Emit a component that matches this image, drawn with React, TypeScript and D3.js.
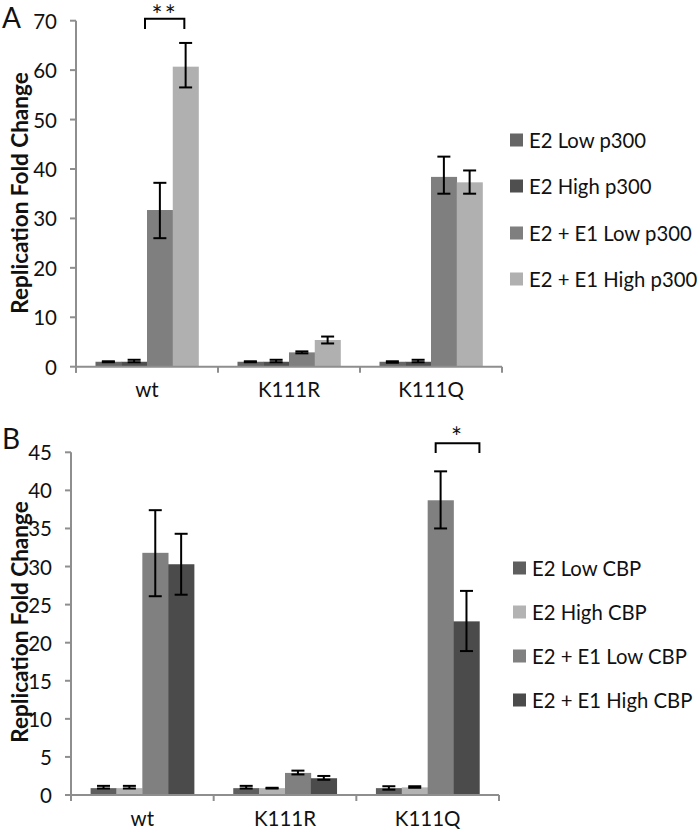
import React from "react";
import * as d3 from "d3";

const categories = ["wt", "K111R", "K111Q"];

const seriesA = ["E2 Low p300", "E2 High p300", "E2 + E1 Low p300", "E2 + E1 High p300"];
const colorsA = ["#666666", "#4f4f4f", "#7f7f7f", "#b0b0b0"];
// values[series][category]
const valuesA = [
  [1.0, 1.0, 1.0],
  [1.0, 1.0, 1.0],
  [31.7, 2.9, 38.4],
  [60.7, 5.4, 37.3],
];
const errLowA = [
  [0.9, 0.9, 0.8],
  [0.9, 0.9, 0.9],
  [26.0, 2.7, 35.0],
  [56.5, 4.7, 35.0],
];
const errHighA = [
  [1.1, 1.1, 1.1],
  [1.4, 1.4, 1.4],
  [37.2, 3.1, 42.5],
  [65.5, 6.1, 39.7],
];
const ticksA = [0, 10, 20, 30, 40, 50, 60, 70];

const seriesB = ["E2 Low CBP", "E2 High CBP", "E2 + E1 Low CBP", "E2 + E1 High CBP"];
const colorsB = ["#5e5e5e", "#b3b3b3", "#808080", "#4b4b4b"];
const valuesB = [
  [0.9, 0.9, 0.9],
  [0.9, 0.9, 1.0],
  [31.8, 2.9, 38.7],
  [30.3, 2.2, 22.8],
];
const errLowB = [
  [0.85, 0.85, 0.7],
  [0.85, 0.85, 0.95],
  [26.1, 2.7, 35.0],
  [26.3, 2.0, 18.9],
];
const errHighB = [
  [1.2, 1.2, 1.15],
  [1.2, 0.95, 1.15],
  [37.4, 3.2, 42.5],
  [34.3, 2.5, 26.8],
];
const ticksB = [0, 5, 10, 15, 20, 25, 30, 35, 40, 45];

const FONT = "Lato, 'Open Sans', sans-serif";

type Sig = { cat: number; from: number; to: number; top: number; end: number; text: string; textY: number; leftOff: number; rightFrac: number };

type PanelProps = {
  letter: string;
  series: string[];
  colors: string[];
  values: number[][];
  lo: number[][];
  hi: number[][];
  ticks: number[];
  yMax: number;
  x0: number;
  x1: number;
  yTop: number;
  yBottom: number;
  letterY: number;
  labelY: number;
  catY: number;
  legendX: number;
  legendRows: number[];
  sig: Sig;
};

function Panel(p: PanelProps) {
  const xCat = d3.scaleBand<string>().domain(categories).range([p.x0, p.x1]).paddingInner(0).paddingOuter(0);
  const xSer = d3
    .scaleBand<string>()
    .domain(p.series)
    .range([0, xCat.bandwidth()])
    .paddingInner(0)
    .paddingOuter(0.757);
  const y = d3.scaleLinear().domain([0, p.yMax]).range([p.yBottom, p.yTop]);
  const bw = xSer.bandwidth();
  const axisColor = "#8e8e8e";
  const capW = 6.5;

  const sigCat = categories[p.sig.cat];
  const sx1 = (xCat(sigCat) as number) + (xSer(p.series[p.sig.from]) as number) + p.sig.leftOff;
  const sx2 = (xCat(sigCat) as number) + (xSer(p.series[p.sig.to]) as number) + bw * p.sig.rightFrac;

  return (
    <g>
      <text x={2} y={p.letterY} fontFamily={FONT} fontSize={28} fill="#111">
        {p.letter}
      </text>
      <line x1={p.x0} x2={p.x0} y1={y(p.yMax)} y2={y(0) + 6} stroke={axisColor} strokeWidth={2} />
      {p.ticks.map((t) => (
        <g key={t}>
          <line x1={p.x0 - 6} x2={p.x0} y1={y(t)} y2={y(t)} stroke={axisColor} strokeWidth={2} />
          <text
            x={p.x0 - 19}
            y={y(t)}
            textAnchor="end"
            dominantBaseline="central"
            fontFamily={FONT}
            fontSize={20.5}
            fill="#111"
          >
            {t}
          </text>
        </g>
      ))}
      <text
        transform={`translate(19,${p.labelY}) rotate(-90)`}
        textAnchor="middle"
        dominantBaseline="central"
        fontFamily={FONT}
        fontWeight="bold"
        fontSize={22.5}
        fill="#111"
      >
        Replication Fold Change
      </text>
      {p.series.map((s, si) =>
        categories.map((c, ci) => {
          const bx = (xCat(c) as number) + (xSer(s) as number);
          const v = p.values[si][ci];
          return (
            <rect key={s + c} x={bx} y={y(v)} width={bw + 0.3} height={y(0) - y(v)} fill={p.colors[si]} />
          );
        })
      )}
      <line x1={p.x0} x2={p.x1} y1={y(0)} y2={y(0)} stroke={axisColor} strokeWidth={2} />
      {categories.map((c) => (
        <line
          key={"t" + c}
          x1={xCat(c) as number}
          x2={xCat(c) as number}
          y1={y(0)}
          y2={y(0) + 6}
          stroke={axisColor}
          strokeWidth={2}
        />
      ))}
      <line x1={p.x1} x2={p.x1} y1={y(0)} y2={y(0) + 6} stroke={axisColor} strokeWidth={2} />
      {categories.map((c) => (
        <text
          key={"l" + c}
          x={(xCat(c) as number) + xCat.bandwidth() / 2}
          y={p.catY}
          textAnchor="middle"
          fontFamily={FONT}
          fontSize={20.5}
          fill="#111"
        >
          {c}
        </text>
      ))}
      {p.series.map((s, si) =>
        categories.map((c, ci) => {
          const cx = (xCat(c) as number) + (xSer(s) as number) + bw / 2;
          const ylo = y(p.lo[si][ci]);
          const yhi = y(p.hi[si][ci]);
          return (
            <g key={"e" + s + c} stroke="#000" strokeWidth={2}>
              <line x1={cx} x2={cx} y1={ylo} y2={yhi} />
              <line x1={cx - capW} x2={cx + capW} y1={yhi} y2={yhi} />
              <line x1={cx - capW} x2={cx + capW} y1={ylo} y2={ylo} />
            </g>
          );
        })
      )}
      <path
        d={`M${sx1},${y(p.sig.end)} L${sx1},${y(p.sig.top)} L${sx2},${y(p.sig.top)} L${sx2},${y(p.sig.end)}`}
        fill="none"
        stroke="#000"
        strokeWidth={2}
      />
      <text
        x={(sx1 + sx2) / 2}
        y={p.sig.textY}
        textAnchor="middle"
        fontFamily={FONT}
        fontSize={26}
        letterSpacing={2}
        fill="#111"
      >
        {p.sig.text}
      </text>
      {p.series.map((s, si) => (
        <g key={"lg" + s}>
          <rect x={p.legendX} y={p.legendRows[si] - 6.5} width={13} height={13} fill={p.colors[si]} />
          <text
            x={p.legendX + 19}
            y={p.legendRows[si]}
            dominantBaseline="central"
            fontFamily={FONT}
            fontSize={20.3}
            fill="#111"
          >
            {s}
          </text>
        </g>
      ))}
    </g>
  );
}

export default function App() {
  return (
    <svg width={700} height={831} style={{ position: "absolute", left: 0, top: 0, background: "#fff" }}>
      <rect width={700} height={831} fill="#fff" />
      <Panel
        letter="A"
        series={seriesA}
        colors={colorsA}
        values={valuesA}
        lo={errLowA}
        hi={errHighA}
        ticks={ticksA}
        yMax={70}
        x0={76}
        x1={502}
        yTop={20.7}
        yBottom={366.7}
        letterY={28}
        labelY={193}
        catY={397}
        legendX={510}
        legendRows={[140, 186, 233, 279]}
        sig={{ cat: 0, from: 2, to: 3, top: 70.4, end: 68.3, text: "**", textY: 25, leftOff: -2, rightFrac: 0.45 }}
      />
      <Panel
        letter="B"
        series={seriesB}
        colors={colorsB}
        values={valuesB}
        lo={errLowB}
        hi={errHighB}
        ticks={ticksB}
        yMax={45}
        x0={71}
        x1={499}
        yTop={452.3}
        yBottom={795}
        letterY={449}
        labelY={622}
        catY={826}
        legendX={513}
        legendRows={[568, 612, 656, 700]}
        sig={{ cat: 2, from: 2, to: 3, top: 46.2, end: 44.9, text: "*", textY: 447, leftOff: 8, rightFrac: 1 }}
      />
    </svg>
  );
}
